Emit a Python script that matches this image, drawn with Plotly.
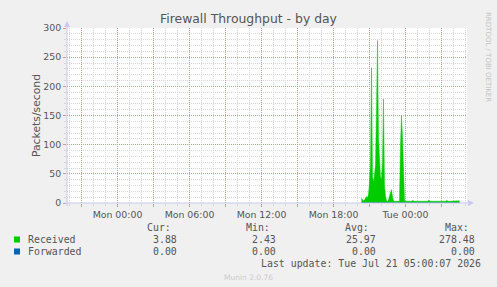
import plotly.graph_objects as go
import pandas as pd

# ---------------- data ----------------
received_start = "2026-07-20 20:20"
received_values = [
    8, 6, 4, 5, 8, 11, 9, 15, 35, 70,
    232, 45, 35, 50, 65, 160, 278.48, 110, 60, 45,
    40, 70, 178, 30, 12, 4, 3, 5, 12, 18,
    23, 10, 3, 3, 2.8, 2.7, 2.6, 2.7, 2.8, 100,
    150, 112, 60, 4,
    3, 3, 2.9, 3, 3.1, 3, 3, 4.5, 3, 2.9,
    3, 3, 2.8, 3, 3, 2.9, 3, 3, 3, 3,
    3.1, 3, 3, 4.6, 3, 2.9, 3, 3, 2.8, 2.43,
    3, 3, 3, 3, 2.9, 3, 3, 3, 3, 3,
    3, 4.5, 3, 3, 2.9, 3, 3, 3.1, 3, 3,
    3, 3, 3, 2.9, 3.88,
]
forwarded_values = [0.0] * len(received_values)
x_start = "2026-07-19 19:47:30"
x_end = "2026-07-21 05:07:30"

legend_names = ["Received", "Forwarded"]
legend_colors = ["#00CC00", "#0066B3"]
stat_headers = ["Cur:", "Min:", "Avg:", "Max:"]
received_stats = ["3.88", "2.43", "25.97", "278.48"]
forwarded_stats = ["0.00", "0.00", "0.00", "0.00"]
last_update = "Last update: Tue Jul 21 05:00:07 2026"

y_minor_ticks = [v for v in range(0, 301, 10) if v % 50 != 0]
y_major_ticks = list(range(0, 301, 50))

times = pd.date_range(received_start, periods=len(received_values), freq="5min")
hour_ticks = [t for t in pd.date_range("2026-07-19 20:00", "2026-07-21 05:00", freq="1h")
              if t.hour % 3 != 0]
major_ticks = pd.date_range("2026-07-19 21:00", "2026-07-21 03:00", freq="3h")
major_labels = [t.strftime("%a %H:%M") if t.hour % 6 == 0 else "" for t in major_ticks]

# ---------------- geometry helpers ----------------
W, H = 497, 287
L, R, T, B = 67, 467, 28, 203


def px(x):
    return (x - L) / (R - L)


def py(y):
    return (B - y) / (B - T)


TXT = "#555555"
SANS = "DejaVu Sans"
MONO = "DejaVu Sans Mono"
MINOR = "#D6D6D6"
MAJOR = "#EC8C8C"
AXIS = "#C8C8F0"

fig = go.Figure()
fig.add_trace(go.Scatter(
    x=times, y=received_values, mode="lines", fill="tozeroy",
    line=dict(color="#00CC00", width=0.5), fillcolor="#00CC00",
    name="Received", hoverinfo="skip", xaxis="x", yaxis="y",
))
fig.add_trace(go.Scatter(
    x=times, y=forwarded_values, mode="lines",
    line=dict(color="#0066B3", width=1),
    name="Forwarded", hoverinfo="skip", xaxis="x2", yaxis="y2",
))

fig.update_layout(
    width=W, height=H, autosize=False,
    margin=dict(l=L, r=W - R, t=T, b=H - B, pad=0),
    paper_bgcolor="#F0F0F0", plot_bgcolor="#FFFFFF",
    showlegend=False,
    title=dict(text="Firewall Throughput - by day", x=0.5, xanchor="center",
               y=1 - 19 / H, yanchor="middle", xref="container", yref="container",
               font=dict(family=SANS, size=12.4, color=TXT)),
    xaxis=dict(
        type="date", range=[x_start, x_end], showline=False, zeroline=False,
        tickvals=hour_ticks, showticklabels=False,
        showgrid=True, gridcolor=MINOR, griddash="1px,1px", gridwidth=1,
        ticks="outside", ticklen=2, tickcolor=MINOR, tickwidth=1,
    ),
    xaxis2=dict(
        type="date", range=[x_start, x_end], overlaying="x", anchor="y2",
        showline=False, zeroline=False, tickvals=list(major_ticks), ticktext=major_labels,
        showgrid=True, gridcolor=MAJOR, griddash="1px,1px", gridwidth=1,
        ticks="outside", ticklen=3, tickcolor=MAJOR, tickwidth=1, side="bottom",
        tickfont=dict(family=SANS, size=9.4, color=TXT),
    ),
    yaxis=dict(
        range=[0, 300], showline=False, zeroline=False,
        tickvals=y_minor_ticks, showticklabels=False,
        showgrid=True, gridcolor=MINOR, griddash="1px,1px", gridwidth=1,
        ticks="outside", ticklen=2, tickcolor=MINOR, tickwidth=1,
    ),
    yaxis2=dict(
        range=[0, 300], overlaying="y", anchor="x2", side="left",
        showline=False, zeroline=False, tickvals=y_major_ticks,
        showgrid=True, gridcolor=MAJOR, griddash="1px,1px", gridwidth=1,
        ticks="outside", ticklen=3, tickcolor=MAJOR, tickwidth=1,
        tickfont=dict(family=SANS, size=9.4, color=TXT),
        title=dict(text="Packets/second", font=dict(family=SANS, size=10.8, color=TXT),
                   standoff=0),
    ),
)

shapes = []
# axes with arrows
shapes.append(dict(type="line", xref="paper", yref="paper", x0=px(67), x1=px(67),
                   y0=py(206), y1=py(24), line=dict(color=AXIS, width=1), layer="above"))
shapes.append(dict(type="path", xref="paper", yref="paper",
                   path=f"M {px(64)} {py(27)} L {px(70)} {py(27)} L {px(67)} {py(21)} Z",
                   fillcolor=AXIS, line=dict(width=0), layer="above"))
shapes.append(dict(type="line", xref="paper", yref="paper", x0=px(64), x1=px(470),
                   y0=py(203), y1=py(203), line=dict(color=AXIS, width=1), layer="above"))
shapes.append(dict(type="path", xref="paper", yref="paper",
                   path=f"M {px(468)} {py(200)} L {px(468)} {py(206)} L {px(474)} {py(203)} Z",
                   fillcolor=AXIS, line=dict(width=0), layer="above"))

annotations = []
# legend
row_y = [239.5, 251.5]
val_right = [179, 278, 377.5, 477]
head_right = [172.5, 272, 371, 470.5]
for i, h in enumerate(stat_headers):
    annotations.append(dict(text=h, x=px(head_right[i]), y=py(227.5), xref="paper", yref="paper",
                            xanchor="right", yanchor="middle", showarrow=False,
                            font=dict(family=MONO, size=9.9, color=TXT)))
for r, (name, col, stats) in enumerate(zip(legend_names, legend_colors,
                                            [received_stats, forwarded_stats])):
    yy = row_y[r]
    shapes.append(dict(type="rect", xref="paper", yref="paper",
                       x0=px(14), x1=px(20), y0=py(yy - 3), y1=py(yy + 3),
                       fillcolor=col, line=dict(width=0)))
    annotations.append(dict(text=name, x=px(26), y=py(yy), xref="paper", yref="paper",
                            xanchor="left", yanchor="middle", showarrow=False,
                            font=dict(family=MONO, size=9.9, color=TXT)))
    for i, s in enumerate(stats):
        annotations.append(dict(text=s, x=px(val_right[i]), y=py(yy), xref="paper", yref="paper",
                                xanchor="right", yanchor="middle", showarrow=False,
                                font=dict(family=MONO, size=9.9, color=TXT)))
annotations.append(dict(text=last_update, x=px(482.5), y=py(263), xref="paper", yref="paper",
                        xanchor="right", yanchor="middle", showarrow=False,
                        font=dict(family=MONO, size=9.9, color=TXT)))
annotations.append(dict(text="Munin 2.0.76", x=px(248), y=py(277), xref="paper", yref="paper",
                        xanchor="center", yanchor="middle", showarrow=False,
                        font=dict(family=SANS, size=7.5, color="#CCCCCC")))
annotations.append(dict(text="RRDTOOL / TOBI OETIKER", x=px(488), y=py(57), xref="paper",
                        yref="paper", xanchor="center", yanchor="middle", textangle=90,
                        showarrow=False, font=dict(family=SANS, size=7, color="#C4C4C4")))

fig.update_layout(shapes=shapes, annotations=annotations)
fig.write_html("out.html", config={"displayModeBar": False})
